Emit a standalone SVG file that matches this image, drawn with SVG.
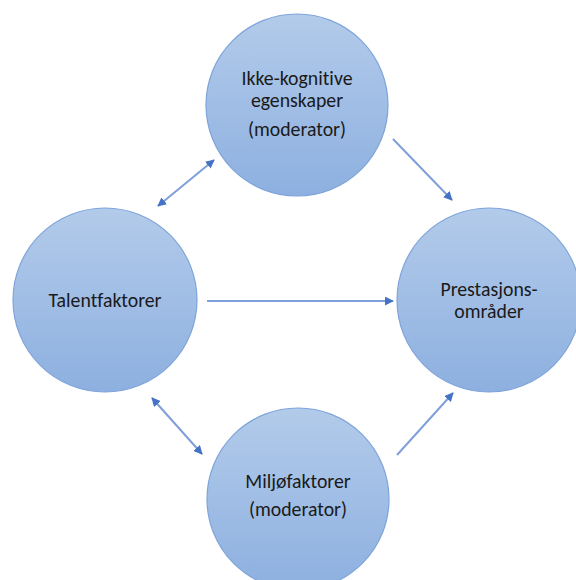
<svg xmlns="http://www.w3.org/2000/svg" width="576" height="580" viewBox="0 0 576 580">
  <defs>
    <linearGradient id="g" x1="0" y1="0" x2="0" y2="1">
      <stop offset="0" stop-color="#b3cbea"/>
      <stop offset="1" stop-color="#8db0e0"/>
    </linearGradient>
    <marker id="ah" viewBox="0 0 10 10" refX="9" refY="5" markerWidth="4.5" markerHeight="4.5" orient="auto-start-reverse" markerUnits="strokeWidth">
      <path d="M0,0 L10,5 L0,10 z" fill="#4472c4"/>
    </marker>
    <style>
      .node circle { fill: url(#g); stroke: #7ea4da; stroke-width: 1.2; }
      .node text { font-family: "Carlito", "Lato", "Liberation Sans", sans-serif; font-size: 19.8px; fill: #1a1a1a; text-anchor: middle; font-variant-ligatures: none; }
      .conn line { stroke: #7f9fda; stroke-width: 2; fill: none; }
    </style>
  </defs>
  <rect width="576" height="580" fill="#ffffff"/>
  <g id="connectors" class="conn">
    <line x1="158" y1="206" x2="214" y2="160" marker-start="url(#ah)" marker-end="url(#ah)"/>
    <line x1="393" y1="139" x2="452" y2="200" marker-end="url(#ah)"/>
    <line x1="207" y1="301" x2="393" y2="301" marker-end="url(#ah)"/>
    <line x1="152" y1="398" x2="202" y2="454" marker-start="url(#ah)" marker-end="url(#ah)"/>
    <line x1="397" y1="455" x2="453" y2="393" marker-end="url(#ah)"/>
  </g>
  <g id="ikke-kognitive" class="node">
    <circle cx="297" cy="105" r="91"/>
    <text x="297" y="85">Ikke-kognitive</text>
    <text x="297" y="107">egenskaper</text>
    <text x="297" y="136">(moderator)</text>
  </g>
  <g id="talentfaktorer" class="node">
    <circle cx="105" cy="300" r="92"/>
    <text x="105" y="307">Talentfaktorer</text>
  </g>
  <g id="prestasjonsomrader" class="node">
    <circle cx="489" cy="300" r="92"/>
    <text x="489" y="296">Prestasjons-</text>
    <text x="489" y="318">områder</text>
  </g>
  <g id="miljofaktorer" class="node">
    <circle cx="298" cy="499" r="91"/>
    <text x="298" y="488">Miljøfaktorer</text>
    <text x="298" y="516">(moderator)</text>
  </g>
</svg>
